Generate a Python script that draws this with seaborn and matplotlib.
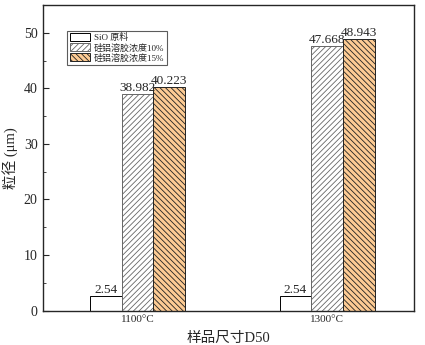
import matplotlib
matplotlib.use('Agg')
import matplotlib.pyplot as plt
import seaborn as sns
import pandas as pd
from matplotlib.ticker import MultipleLocator

# 数据
temps = ['1100°C', '1300°C']
groups = ['SiO 原料', '硅铝溶胶浓度10%', '硅铝溶胶浓度15%']
raw = [2.54, 2.54]
conc10 = [38.982, 47.668]
conc15 = [40.223, 48.943]

sns.set_style('ticks')
plt.rcParams['font.family'] = ['Liberation Serif', 'Noto Sans CJK SC']
plt.rcParams['hatch.linewidth'] = 0.6

df = pd.DataFrame({
    'temp': temps * 3,
    'group': [groups[0]] * 2 + [groups[1]] * 2 + [groups[2]] * 2,
    'val': raw + conc10 + conc15,
})

fig, ax = plt.subplots(figsize=(4.25, 3.45), dpi=100)
sns.barplot(data=df, x='temp', y='val', hue='group', hue_order=groups,
            width=0.5, ax=ax, edgecolor='black', linewidth=0.7,
            palette=['white', 'white', '#fdcb94'], saturation=1, legend=False)

hatches = ['', '//////', '\\\\\\\\\\\\']
edges = ['black', '#666666', '#222222']
for cont, h, ec in zip(ax.containers, hatches, edges):
    for bar in cont:
        bar.set_hatch(h)
        bar.set_edgecolor(ec)

fmt = [lambda v: f'{v:.2f}', lambda v: f'{v:.3f}', lambda v: f'{v:.3f}']
for cont, f in zip(ax.containers, fmt):
    ax.bar_label(cont, labels=[f(b.get_height()) for b in cont], padding=0,
                 fontsize=9.5)

ax.set_xlim(-0.5, 1.46)
ax.set_ylim(0, 55)
ax.yaxis.set_major_locator(MultipleLocator(10))
ax.yaxis.set_minor_locator(MultipleLocator(5))
ax.tick_params(axis='y', direction='in', which='both', labelsize=10)
ax.tick_params(axis='y', which='major', length=4)
ax.tick_params(axis='y', which='minor', length=2)
ax.tick_params(axis='x', length=0, labelsize=8, pad=3)
for s in ax.spines.values():
    s.set_linewidth(1.0)
    s.set_visible(True)

ax.set_xlabel('样品尺寸D50', fontsize=10.5, labelpad=6)
ax.set_ylabel('粒径 (μm)', fontsize=10.5)

handles = [cont[0] for cont in ax.containers]
leg = ax.legend(handles, groups, loc='upper left', bbox_to_anchor=(0.055, 0.93),
                fontsize=6.5, frameon=True, fancybox=False, edgecolor='#333333',
                handlelength=2.2, handleheight=1.0, borderpad=0.25,
                labelspacing=0.1, handletextpad=0.5)
leg.get_frame().set_linewidth(0.8)

plt.subplots_adjust(left=0.1, right=0.975, top=0.985, bottom=0.1)
plt.savefig('out.png', dpi=100)
